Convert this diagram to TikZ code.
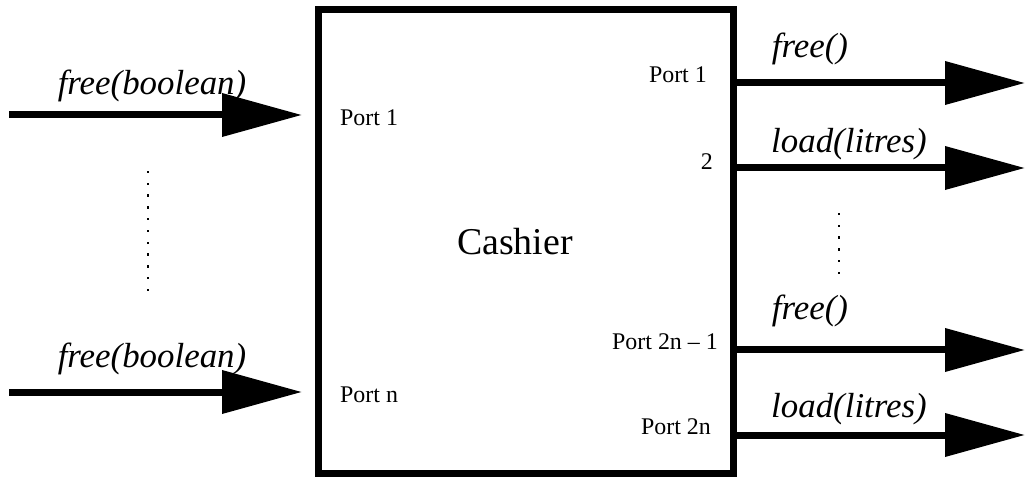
\documentclass[tikz,border=0pt]{standalone}
\usepackage{fontspec}
\setmainfont{Liberation Serif}
\usetikzlibrary{arrows.meta}
\begin{document}
\begin{tikzpicture}[x=1bp,y=-1bp,
  flow/.style={line width=7bp,-{Triangle[length=80bp,width=42bp]}},
  sig/.style={font=\fontsize{35}{40}\selectfont\itshape,inner sep=0pt},
  port/.style={font=\fontsize{24}{28}\selectfont,inner sep=0pt},
  dotcol/.style={fill=black,minimum size=2.4bp,inner sep=0pt,draw=none}]
\useasboundingbox (0,0) rectangle (1027,477);
\node[draw,line width=7bp,minimum width=415bp,minimum height=463bp,inner sep=0pt] (box) at (525.5,241.5) {};
\node[font=\fontsize{38}{44}\selectfont,inner sep=0pt] (title) at (515,242) {Cashier};
% left inputs
\coordinate (l1) at (9,115);
\coordinate (l1e) at (302,115);
\coordinate (l2) at (9,392);
\coordinate (l2e) at (302,392);
\draw[flow] (l1) -- (l1e);
\draw[flow] (l2) -- (l2e);
\node[sig] (ls1) at (152,86) {free(boolean)};
\node[sig] (ls2) at (152,359) {free(boolean)};
% right outputs
\coordinate (r1) at (1025,83);
\coordinate (r2) at (1025,168);
\coordinate (r3) at (1025,350);
\coordinate (r4) at (1025,435);
\draw[flow] (box.east |- r1) -- (r1);
\draw[flow] (box.east |- r2) -- (r2);
\draw[flow] (box.east |- r3) -- (r3);
\draw[flow] (box.east |- r4) -- (r4);
\node[sig] (rs1) at (810,49) {free()};
\node[sig] (rs2) at (849,144) {load(litres)};
\node[sig] (rs3) at (810,311) {free()};
\node[sig] (rs4) at (849,409) {load(litres)};
% port labels
\node[port,anchor=west] (pl1) at (340,118) {Port 1};
\node[port,anchor=west] (pln) at (340,395) {Port n};
\node[port,anchor=east] (pr1) at (707,75) {Port 1};
\node[port,anchor=east] (pr2) at (713,162) {2};
\node[port,anchor=east] (pr3) at (718,342) {Port 2n -- 1};
\node[port,anchor=east] (pr4) at (711,427) {Port 2n};
% dots
\foreach \i in {0,...,10} \node[dotcol] (ld\i) at (148,172+11.8*\i) {};
\foreach \i in {0,...,5} \node[dotcol] (rd\i) at (839,214+11.8*\i) {};
\end{tikzpicture}
\end{document}
